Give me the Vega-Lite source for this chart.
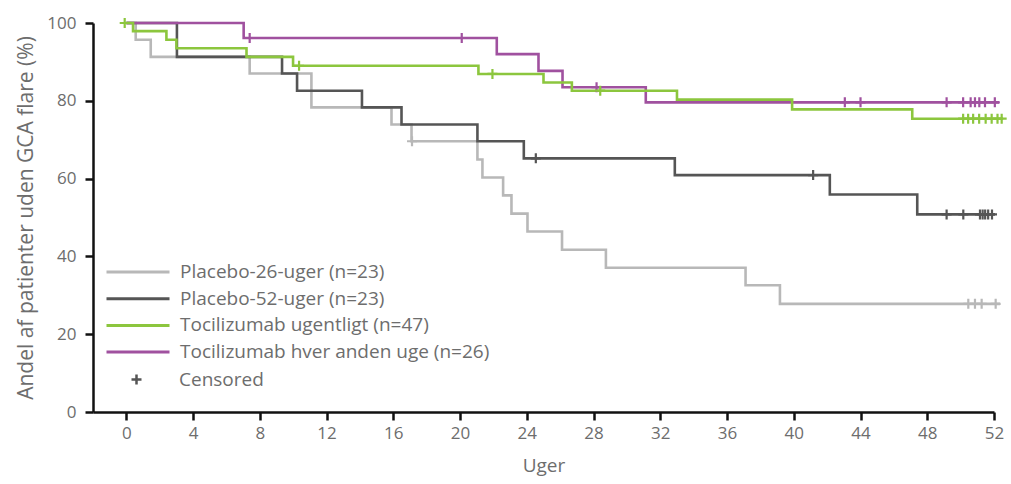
{
  "$schema": "https://vega.github.io/schema/vega-lite/v6.json",
  "width": 901,
  "height": 389,
  "autosize": "none",
  "padding": {"left": 93, "top": 23, "right": 17, "bottom": 72},
  "background": "white",
  "config": {
    "view": {"stroke": null},
    "font": "Open Sans"
  },
  "datasets": {
    "curves": [
      {"group": "Placebo-26-uger (n=23)", "week": 0, "surv": 100},
      {"group": "Placebo-26-uger (n=23)", "week": 0.56, "surv": 95.7},
      {"group": "Placebo-26-uger (n=23)", "week": 1.46, "surv": 91.3},
      {"group": "Placebo-26-uger (n=23)", "week": 7.39, "surv": 87.0},
      {"group": "Placebo-26-uger (n=23)", "week": 11.09, "surv": 78.3},
      {"group": "Placebo-26-uger (n=23)", "week": 15.89, "surv": 73.9},
      {"group": "Placebo-26-uger (n=23)", "week": 17.09, "surv": 69.6},
      {"group": "Placebo-26-uger (n=23)", "week": 21.04, "surv": 64.9},
      {"group": "Placebo-26-uger (n=23)", "week": 21.34, "surv": 60.3},
      {"group": "Placebo-26-uger (n=23)", "week": 22.58, "surv": 55.7},
      {"group": "Placebo-26-uger (n=23)", "week": 23.08, "surv": 51.0},
      {"group": "Placebo-26-uger (n=23)", "week": 24.04, "surv": 46.4},
      {"group": "Placebo-26-uger (n=23)", "week": 26.11, "surv": 41.7},
      {"group": "Placebo-26-uger (n=23)", "week": 28.74, "surv": 37.1},
      {"group": "Placebo-26-uger (n=23)", "week": 37.11, "surv": 32.6},
      {"group": "Placebo-26-uger (n=23)", "week": 39.17, "surv": 27.8},
      {"group": "Placebo-26-uger (n=23)", "week": 52.36, "surv": 27.8},

      {"group": "Placebo-52-uger (n=23)", "week": 0, "surv": 100},
      {"group": "Placebo-52-uger (n=23)", "week": 3.03, "surv": 91.3},
      {"group": "Placebo-52-uger (n=23)", "week": 9.33, "surv": 87.0},
      {"group": "Placebo-52-uger (n=23)", "week": 10.23, "surv": 82.6},
      {"group": "Placebo-52-uger (n=23)", "week": 14.12, "surv": 78.3},
      {"group": "Placebo-52-uger (n=23)", "week": 16.49, "surv": 73.9},
      {"group": "Placebo-52-uger (n=23)", "week": 21.04, "surv": 69.6},
      {"group": "Placebo-52-uger (n=23)", "week": 23.82, "surv": 65.2},
      {"group": "Placebo-52-uger (n=23)", "week": 32.87, "surv": 60.9},
      {"group": "Placebo-52-uger (n=23)", "week": 42.16, "surv": 55.9},
      {"group": "Placebo-52-uger (n=23)", "week": 47.4, "surv": 50.8},
      {"group": "Placebo-52-uger (n=23)", "week": 52.06, "surv": 50.8},

      {"group": "Tocilizumab hver anden uge (n=26)", "week": 0, "surv": 100},
      {"group": "Tocilizumab hver anden uge (n=26)", "week": 7.03, "surv": 96.15},
      {"group": "Tocilizumab hver anden uge (n=26)", "week": 22.2, "surv": 92.0},
      {"group": "Tocilizumab hver anden uge (n=26)", "week": 24.7, "surv": 87.7},
      {"group": "Tocilizumab hver anden uge (n=26)", "week": 26.14, "surv": 83.5},
      {"group": "Tocilizumab hver anden uge (n=26)", "week": 31.13, "surv": 79.6},
      {"group": "Tocilizumab hver anden uge (n=26)", "week": 52.3, "surv": 79.6},

      {"group": "Tocilizumab ugentligt (n=47)", "week": 0, "surv": 100},
      {"group": "Tocilizumab ugentligt (n=47)", "week": 0.4, "surv": 97.9},
      {"group": "Tocilizumab ugentligt (n=47)", "week": 2.4, "surv": 95.7},
      {"group": "Tocilizumab ugentligt (n=47)", "week": 3.0, "surv": 93.5},
      {"group": "Tocilizumab ugentligt (n=47)", "week": 7.2, "surv": 91.3},
      {"group": "Tocilizumab ugentligt (n=47)", "week": 9.99, "surv": 89.0},
      {"group": "Tocilizumab ugentligt (n=47)", "week": 21.1, "surv": 86.9},
      {"group": "Tocilizumab ugentligt (n=47)", "week": 25.0, "surv": 84.7},
      {"group": "Tocilizumab ugentligt (n=47)", "week": 26.7, "surv": 82.6},
      {"group": "Tocilizumab ugentligt (n=47)", "week": 33.0, "surv": 80.3},
      {"group": "Tocilizumab ugentligt (n=47)", "week": 39.9, "surv": 77.8},
      {"group": "Tocilizumab ugentligt (n=47)", "week": 47.1, "surv": 75.4},
      {"group": "Tocilizumab ugentligt (n=47)", "week": 52.55, "surv": 75.4}
    ],
    "censored": [
      {"group": "Placebo-26-uger (n=23)", "kind": "Censored", "week": 17.12, "surv": 69.6},
      {"group": "Placebo-26-uger (n=23)", "kind": "Censored", "week": 50.46, "surv": 27.8},
      {"group": "Placebo-26-uger (n=23)", "kind": "Censored", "week": 50.86, "surv": 27.8},
      {"group": "Placebo-26-uger (n=23)", "kind": "Censored", "week": 51.26, "surv": 27.8},
      {"group": "Placebo-26-uger (n=23)", "kind": "Censored", "week": 52.1, "surv": 27.8},

      {"group": "Placebo-52-uger (n=23)", "kind": "Censored", "week": 24.54, "surv": 65.2},
      {"group": "Placebo-52-uger (n=23)", "kind": "Censored", "week": 41.16, "surv": 60.9},
      {"group": "Placebo-52-uger (n=23)", "kind": "Censored", "week": 49.16, "surv": 50.8},
      {"group": "Placebo-52-uger (n=23)", "kind": "Censored", "week": 50.16, "surv": 50.8},
      {"group": "Placebo-52-uger (n=23)", "kind": "Censored", "week": 51.16, "surv": 50.8},
      {"group": "Placebo-52-uger (n=23)", "kind": "Censored", "week": 51.32, "surv": 50.8},
      {"group": "Placebo-52-uger (n=23)", "kind": "Censored", "week": 51.47, "surv": 50.8},
      {"group": "Placebo-52-uger (n=23)", "kind": "Censored", "week": 51.65, "surv": 50.8},
      {"group": "Placebo-52-uger (n=23)", "kind": "Censored", "week": 51.88, "surv": 50.8},

      {"group": "Tocilizumab hver anden uge (n=26)", "kind": "Censored", "week": 7.39, "surv": 96.15},
      {"group": "Tocilizumab hver anden uge (n=26)", "kind": "Censored", "week": 20.1, "surv": 96.15},
      {"group": "Tocilizumab hver anden uge (n=26)", "kind": "Censored", "week": 28.18, "surv": 83.5},
      {"group": "Tocilizumab hver anden uge (n=26)", "kind": "Censored", "week": 43.06, "surv": 79.6},
      {"group": "Tocilizumab hver anden uge (n=26)", "kind": "Censored", "week": 44.0, "surv": 79.6},
      {"group": "Tocilizumab hver anden uge (n=26)", "kind": "Censored", "week": 49.16, "surv": 79.6},
      {"group": "Tocilizumab hver anden uge (n=26)", "kind": "Censored", "week": 50.15, "surv": 79.6},
      {"group": "Tocilizumab hver anden uge (n=26)", "kind": "Censored", "week": 50.6, "surv": 79.6},
      {"group": "Tocilizumab hver anden uge (n=26)", "kind": "Censored", "week": 50.86, "surv": 79.6},
      {"group": "Tocilizumab hver anden uge (n=26)", "kind": "Censored", "week": 51.12, "surv": 79.6},
      {"group": "Tocilizumab hver anden uge (n=26)", "kind": "Censored", "week": 51.46, "surv": 79.6},
      {"group": "Tocilizumab hver anden uge (n=26)", "kind": "Censored", "week": 52.05, "surv": 79.6},

      {"group": "Tocilizumab ugentligt (n=47)", "kind": "Censored", "week": -0.1, "surv": 100},
      {"group": "Tocilizumab ugentligt (n=47)", "kind": "Censored", "week": 10.35, "surv": 89.0},
      {"group": "Tocilizumab ugentligt (n=47)", "kind": "Censored", "week": 21.94, "surv": 86.9},
      {"group": "Tocilizumab ugentligt (n=47)", "kind": "Censored", "week": 28.4, "surv": 82.6},
      {"group": "Tocilizumab ugentligt (n=47)", "kind": "Censored", "week": 50.15, "surv": 75.4},
      {"group": "Tocilizumab ugentligt (n=47)", "kind": "Censored", "week": 50.45, "surv": 75.4},
      {"group": "Tocilizumab ugentligt (n=47)", "kind": "Censored", "week": 50.75, "surv": 75.4},
      {"group": "Tocilizumab ugentligt (n=47)", "kind": "Censored", "week": 51.11, "surv": 75.4},
      {"group": "Tocilizumab ugentligt (n=47)", "kind": "Censored", "week": 51.5, "surv": 75.4},
      {"group": "Tocilizumab ugentligt (n=47)", "kind": "Censored", "week": 51.86, "surv": 75.4},
      {"group": "Tocilizumab ugentligt (n=47)", "kind": "Censored", "week": 52.21, "surv": 75.4},
      {"group": "Tocilizumab ugentligt (n=47)", "kind": "Censored", "week": 52.46, "surv": 75.4}
    ]
  },
  "encoding": {
    "x": {
      "field": "week", "type": "quantitative",
      "scale": {"domain": [-2, 52], "nice": false, "zero": false},
      "axis": {
        "title": "Uger",
        "values": [0, 4, 8, 12, 16, 20, 24, 28, 32, 36, 40, 44, 48, 52],
        "grid": false,
        "labelFlush": false,
        "domainColor": "#111111", "domainWidth": 2.5,
        "tickColor": "#111111", "tickWidth": 2.5, "tickSize": 8,
        "labelFont": "Open Sans", "labelFontSize": 17, "labelColor": "#6d6d6d", "labelPadding": 5,
        "titleFont": "Open Sans", "titleFontSize": 19, "titleFontWeight": "normal", "titleColor": "#6d6d6d", "titlePadding": 15
      }
    },
    "y": {
      "field": "surv", "type": "quantitative",
      "scale": {"domain": [0, 100], "nice": false},
      "axis": {
        "title": "Andel af patienter uden GCA flare (%)",
        "values": [0, 20, 40, 60, 80, 100],
        "grid": false,
        "labelFlush": false,
        "domainColor": "#111111", "domainWidth": 2.5,
        "tickColor": "#111111", "tickWidth": 2.5, "tickSize": 8,
        "labelFont": "Open Sans", "labelFontSize": 17, "labelColor": "#6d6d6d", "labelPadding": 9,
        "titleFont": "Open Sans", "titleFontSize": 21, "titleFontWeight": "normal", "titleColor": "#6d6d6d", "titlePadding": 10
      }
    },
    "color": {
      "field": "group", "type": "nominal",
      "scale": {
        "domain": ["Placebo-26-uger (n=23)", "Placebo-52-uger (n=23)", "Tocilizumab ugentligt (n=47)", "Tocilizumab hver anden uge (n=26)"],
        "range": ["#b8b8b8", "#555555", "#8cc63e", "#a0519f"]
      },
      "legend": {
        "title": null,
        "orient": "none",
        "legendX": 33,
        "legendY": 237,
        "padding": 0,
        "symbolType": "M-3,0H3",
        "symbolSize": 441,
        "symbolStrokeWidth": 3,
        "labelOffset": 30,
        "labelFont": "Open Sans",
        "labelFontSize": 19,
        "labelColor": "#6d6d6d",
        "rowPadding": 4.7,
        "labelLimit": 400
      }
    }
  },
  "layer": [
    {
      "data": {"name": "curves"},
      "mark": {"type": "line", "interpolate": "step-after", "strokeWidth": 2.6},
      "encoding": {"order": {"field": "week", "type": "quantitative"}}
    },
    {
      "data": {"name": "censored"},
      "mark": {"type": "point", "filled": false, "size": 100, "strokeWidth": 2.2, "opacity": 1},
      "encoding": {
        "shape": {
          "field": "kind", "type": "nominal",
          "scale": {"domain": ["Censored"], "range": ["M-1,0H1M0,-1V1"]},
          "legend": {
            "title": null,
            "orient": "none",
            "legendX": 34,
            "legendY": 347,
            "padding": 0,
            "symbolSize": 100,
            "symbolStrokeColor": "#555555",
            "symbolFillColor": "transparent",
            "symbolStrokeWidth": 2.5,
            "labelOffset": 33,
            "labelFont": "Open Sans",
            "labelFontSize": 19,
            "labelColor": "#6d6d6d"
          }
        }
      }
    }
  ]
}
